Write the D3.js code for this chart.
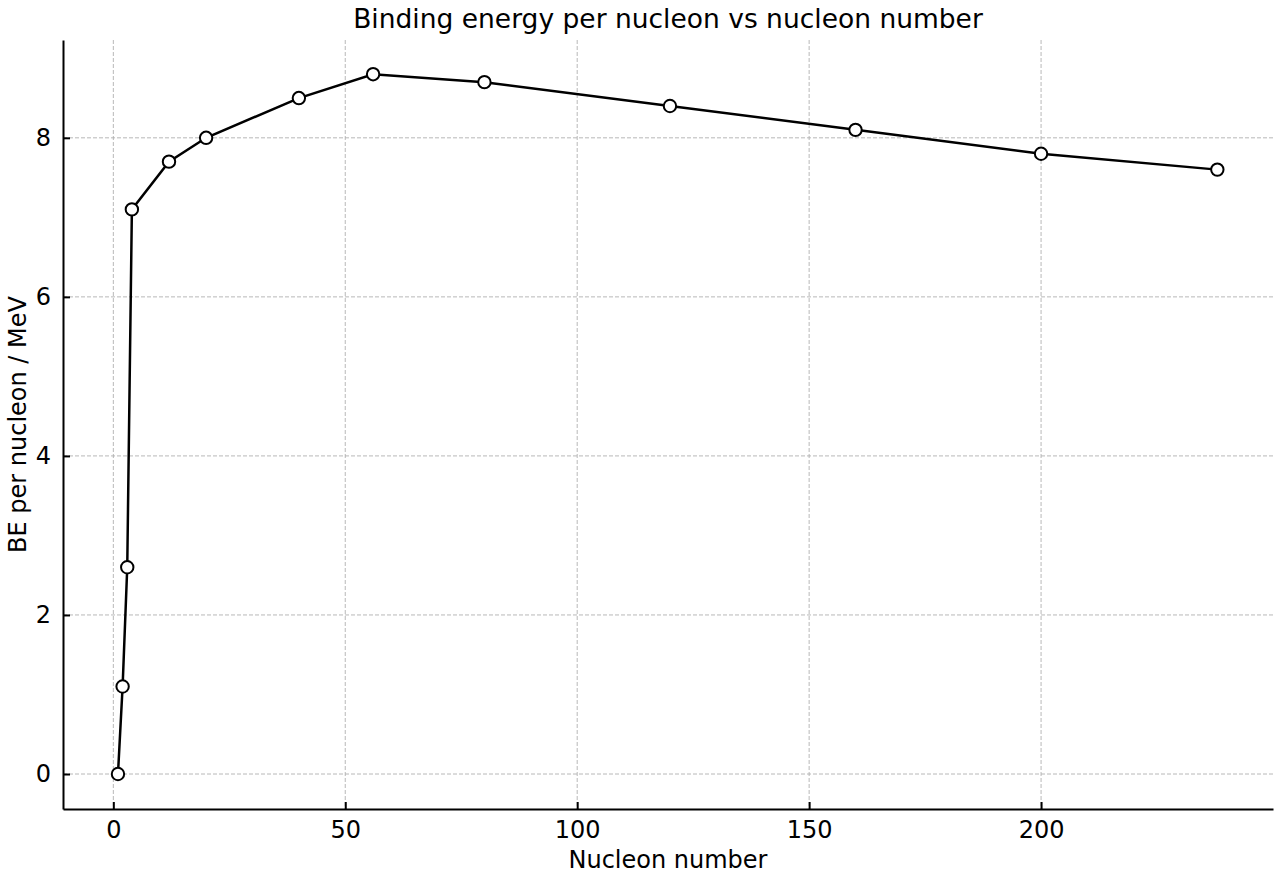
<!DOCTYPE html>
<html>
<head>
<meta charset="utf-8">
<script src="https://cdn.jsdelivr.net/npm/d3@7"></script>
<style>
  body { margin: 0; background: #fff; }
  text { font-family: "DejaVu Sans", sans-serif; }
</style>
</head>
<body>
<div id="chart"></div>
<script>
const nucleons = [1, 2, 3, 4, 12, 20, 40, 56, 80, 120, 160, 200, 238];
const bePerNucleon = [0, 1.1, 2.6, 7.1, 7.7, 8.0, 8.5, 8.8, 8.7, 8.4, 8.1, 7.8, 7.6];
const xTicks = [0, 50, 100, 150, 200];
const yTicks = [0, 2, 4, 6, 8];

const width = 1280, height = 880;
const margin = { top: 40, right: 7, bottom: 71, left: 63 };

const svg = d3.select("#chart").append("svg")
  .attr("width", width)
  .attr("height", height);

const x = d3.scaleLinear()
  .domain([-10.85, 250])
  .range([margin.left, width - margin.right]);
const y = d3.scaleLinear()
  .domain([-0.44, 9.23])
  .range([height - margin.bottom, margin.top]);

// grid
svg.append("g")
  .selectAll("line")
  .data(xTicks)
  .join("line")
  .attr("x1", d => x(d)).attr("x2", d => x(d))
  .attr("y1", margin.top).attr("y2", height - margin.bottom)
  .attr("stroke", "#b0b0b0").attr("stroke-width", 0.9)
  .attr("stroke-dasharray", "4,2");
svg.append("g")
  .selectAll("line")
  .data(yTicks)
  .join("line")
  .attr("x1", margin.left).attr("x2", width - margin.right)
  .attr("y1", d => y(d)).attr("y2", d => y(d))
  .attr("stroke", "#b0b0b0").attr("stroke-width", 0.9)
  .attr("stroke-dasharray", "4,2");

// axes (ticks pointing inward)
const xAxis = svg.append("g")
  .attr("transform", `translate(0,${height - margin.bottom})`)
  .call(d3.axisBottom(x).tickValues(xTicks).tickSizeInner(-7).tickSizeOuter(0).tickPadding(12));
const yAxis = svg.append("g")
  .attr("transform", `translate(${margin.left},0)`)
  .call(d3.axisLeft(y).tickValues(yTicks).tickSizeInner(-7).tickSizeOuter(0).tickPadding(12));

[xAxis, yAxis].forEach(a => {
  a.select(".domain").attr("stroke", "#000").attr("stroke-width", 2);
  a.selectAll(".tick line").attr("stroke", "#000").attr("stroke-width", 2);
  a.selectAll(".tick text").attr("fill", "#000").style("font-size", "24px")
    .style("font-family", "'DejaVu Sans', sans-serif");
});

// line
const line = d3.line()
  .x((d, i) => x(nucleons[i]))
  .y(d => y(d));
svg.append("path")
  .datum(bePerNucleon)
  .attr("fill", "none")
  .attr("stroke", "#000")
  .attr("stroke-width", 2.5)
  .attr("d", line);

svg.append("g")
  .selectAll("circle")
  .data(bePerNucleon)
  .join("circle")
  .attr("cx", (d, i) => x(nucleons[i]))
  .attr("cy", d => y(d))
  .attr("r", 6.2)
  .attr("fill", "#fff")
  .attr("stroke", "#000")
  .attr("stroke-width", 2);

// labels
svg.append("text")
  .attr("x", (margin.left + width - margin.right) / 2)
  .attr("y", 28)
  .attr("text-anchor", "middle")
  .style("font-size", "26.5px")
  .text("Binding energy per nucleon vs nucleon number");

svg.append("text")
  .attr("x", (margin.left + width - margin.right) / 2)
  .attr("y", 868)
  .attr("text-anchor", "middle")
  .style("font-size", "24px")
  .text("Nucleon number");

svg.append("text")
  .attr("transform", `translate(26,${(margin.top + height - margin.bottom) / 2}) rotate(-90)`)
  .attr("text-anchor", "middle")
  .style("font-size", "24px")
  .text("BE per nucleon / MeV");
</script>
</body>
</html>
